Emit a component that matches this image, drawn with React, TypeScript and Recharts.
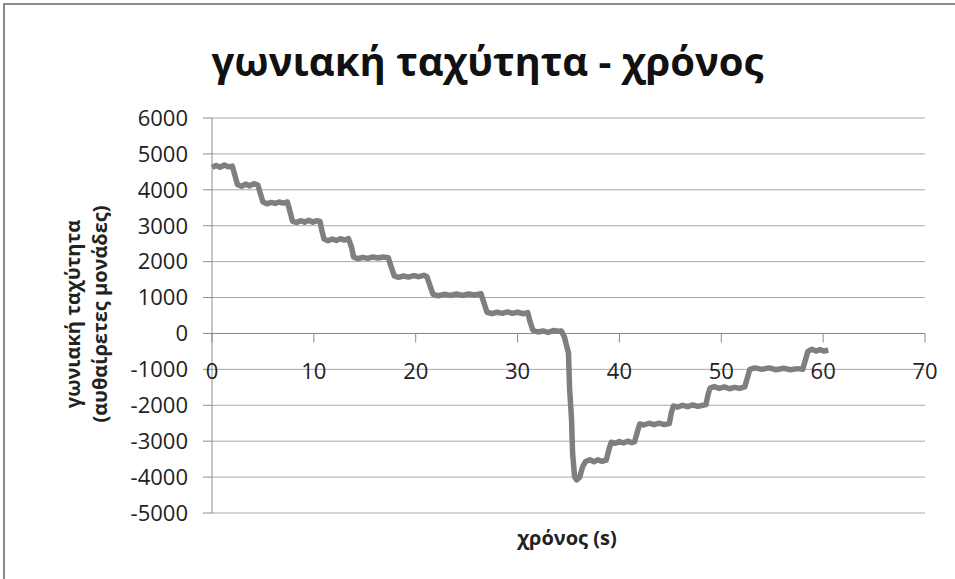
import React from "react";
import {
  LineChart,
  Line,
  XAxis,
  YAxis,
  CartesianGrid,
  ReferenceLine,
  ReferenceDot,
} from "recharts";

// time (s) and angular velocity (arbitrary units)
const timeS = [
  0, 0.4, 0.8, 1.2, 1.6, 2.0, 2.3, 2.5,
  2.9, 3.3, 3.7, 4.1, 4.5, 4.8, 5.0,
  5.4, 5.8, 6.2, 6.6, 7.0, 7.4, 7.7, 7.9,
  8.3, 8.7, 9.1, 9.5, 9.9, 10.3, 10.6, 10.8, 11.0,
  11.4, 11.8, 12.2, 12.6, 13.0, 13.4, 13.7, 13.9,
  14.3, 14.8, 15.3, 15.8, 16.3, 16.8, 17.3, 17.6, 17.9,
  18.3, 18.8, 19.3, 19.8, 20.3, 20.8, 21.1, 21.4, 21.7,
  22.2, 22.8, 23.4, 24.0, 24.6, 25.2, 25.8, 26.4, 26.7, 27.0,
  27.5, 28.0, 28.5, 29.0, 29.5, 30.0, 30.5, 31.0, 31.2, 31.5,
  32.0, 32.5, 33.0, 33.5, 34.0, 34.3,
  34.6, 35.0, 35.1, 35.3, 35.4, 35.6, 35.8, 36.1, 36.4,
  36.7, 37.1, 37.5, 37.9, 38.3, 38.7, 39.0, 39.2,
  39.6, 40.0, 40.4, 40.8, 41.2, 41.5, 41.8, 42.0,
  42.4, 42.9, 43.4, 43.9, 44.4, 44.9, 45.1, 45.3,
  45.7, 46.2, 46.7, 47.2, 47.7, 48.2, 48.5, 48.7, 48.9,
  49.3, 49.8, 50.3, 50.8, 51.3, 51.8, 52.3, 52.6, 52.8,
  53.3, 54.0, 54.7, 55.4, 56.1, 56.8, 57.5, 58.0, 58.3, 58.5,
  58.9, 59.3, 59.7, 60.1, 60.5,
];

const omega = [
  4620, 4680, 4630, 4690, 4640, 4660, 4350, 4150,
  4100, 4160, 4110, 4170, 4130, 3850, 3660,
  3610, 3650, 3620, 3660, 3630, 3660, 3350, 3130,
  3090, 3140, 3100, 3150, 3100, 3140, 3120, 2850, 2630,
  2580, 2630, 2590, 2640, 2600, 2640, 2400, 2130,
  2080, 2120, 2090, 2130, 2100, 2130, 2110, 1850, 1600,
  1560, 1600, 1570, 1610, 1580, 1620, 1580, 1330, 1090,
  1050, 1090, 1060, 1100, 1060, 1100, 1070, 1110, 850, 590,
  550, 590, 560, 600, 560, 590, 550, 580, 350, 90,
  40, 70, 30, 80, 60, 70,
  -100, -550, -1500, -2400, -3330, -3990, -4080, -4000, -3700,
  -3560, -3520, -3570, -3520, -3560, -3530, -3200, -3030,
  -3060, -3010, -3050, -3000, -3040, -3010, -2700, -2520,
  -2550, -2500, -2540, -2500, -2540, -2510, -2200, -2020,
  -2050, -2000, -2040, -1990, -2030, -2000, -1980, -1700, -1520,
  -1480, -1530, -1490, -1540, -1500, -1530, -1490, -1200, -1000,
  -960, -1000, -960, -1010, -970, -1010, -980, -1000, -700, -500,
  -440, -490, -450, -490, -460,
];

const xTicks = [0, 10, 20, 30, 40, 50, 60, 70];
const yTicks = [6000, 5000, 4000, 3000, 2000, 1000, 0, -1000, -2000, -3000, -4000, -5000];

const data = timeS.map((t, i) => ({ t, w: omega[i] }));

const font = "'Open Sans', 'Noto Sans', sans-serif";
const axisGray = "#8c8c8c";
const textColor = "#222";

// x axis crosses at y = 0, so its ticks are drawn as reference dots on that line
function XTickMark({ cx, cy, value }: { cx?: number; cy?: number; value: number }) {
  if (cx == null || cy == null) return null;
  return (
    <g>
      <line x1={cx} y1={cy} x2={cx} y2={cy + 9} stroke={axisGray} strokeWidth={1} />
      <text x={cx} y={cy + 46} textAnchor="middle" fontSize={22} fontFamily={font} fill={textColor}>
        {value}
      </text>
    </g>
  );
}

export default function App() {
  return (
    <div
      style={{
        position: "absolute",
        left: 0,
        top: 0,
        width: 955,
        height: 579,
        overflow: "hidden",
        background: "#fff",
        fontFamily: font,
      }}
    >
      <div
        style={{
          position: "absolute",
          left: 3,
          top: 3,
          width: 1000,
          height: 1000,
          border: "2px solid #8a8a8a",
        }}
      />
      <div
        style={{
          position: "absolute",
          left: 0,
          width: 975,
          top: 41,
          textAlign: "center",
          fontSize: 40,
          fontWeight: 700,
          lineHeight: 1,
          color: "#111",
        }}
      >
        γωνιακή ταχύτητα - χρόνος
      </div>
      <div
        style={{
          position: "absolute",
          left: 86 - 150,
          top: 314 - 27,
          width: 300,
          height: 54,
          transform: "rotate(-90deg)",
          textAlign: "center",
          fontSize: 20,
          fontWeight: 700,
          lineHeight: "27px",
          color: textColor,
        }}
      >
        γωνιακή ταχύτητα
        <br />
        (αυθαίρετες μονάδες)
      </div>
      <div
        style={{
          position: "absolute",
          left: 467,
          width: 200,
          top: 528,
          textAlign: "center",
          fontSize: 20,
          fontWeight: 700,
          lineHeight: 1,
          color: textColor,
        }}
      >
        χρόνος (s)
      </div>
      <div style={{ position: "absolute", left: 0, top: 0 }}>
        <LineChart
          width={955}
          height={579}
          data={data}
          margin={{ top: 118, right: 30, bottom: 66, left: 100 }}
        >
          <CartesianGrid vertical={false} stroke="#a8a8a8" strokeWidth={1} />
          <XAxis type="number" dataKey="t" domain={[0, 70]} ticks={xTicks} hide />
          <YAxis
            type="number"
            domain={[-5000, 6000]}
            ticks={yTicks}
            interval={0}
            width={112}
            tickSize={9}
            tickMargin={15}
            axisLine={{ stroke: axisGray }}
            tickLine={{ stroke: axisGray }}
            tick={{ fontSize: 22, fontFamily: font, fill: textColor }}
          />
          <ReferenceLine y={0} stroke={axisGray} strokeWidth={1} />
          {xTicks.map((v) => (
            <ReferenceDot
              key={v}
              x={v}
              y={0}
              r={0}
              ifOverflow="visible"
              shape={(p: any) => <XTickMark cx={p.cx} cy={p.cy} value={v} />}
            />
          ))}
          <Line
            type="linear"
            dataKey="w"
            stroke="#7f7f7f"
            strokeWidth={5.5}
            strokeLinejoin="round"
            dot={false}
            isAnimationActive={false}
          />
        </LineChart>
      </div>
    </div>
  );
}
